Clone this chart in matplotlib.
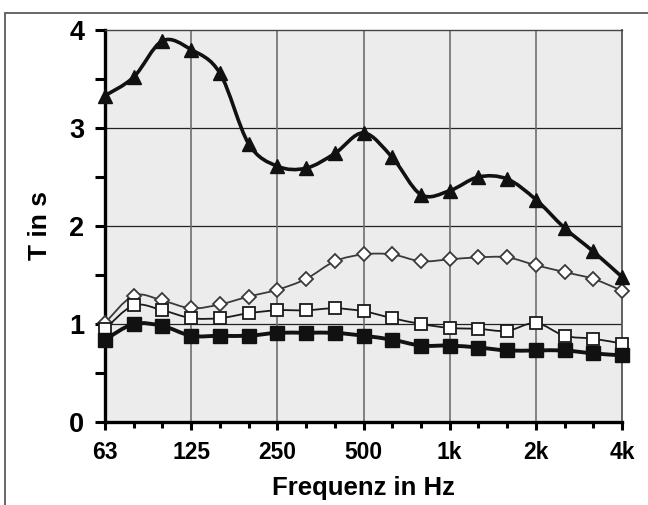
import numpy as np
import matplotlib.pyplot as plt
from matplotlib.path import Path
from matplotlib.patches import PathPatch, Rectangle
from matplotlib.ticker import MultipleLocator, FixedLocator, FuncFormatter

plt.rcParams['font.family'] = ['Liberation Sans', 'DejaVu Sans']
plt.rcParams['font.weight'] = 'bold'
plt.rcParams['axes.labelweight'] = 'bold'

# third-octave bands 63 Hz .. 4 kHz
bands = ['63', '80', '100', '125', '160', '200', '250', '315', '400', '500',
         '630', '800', '1k', '1.25k', '1.6k', '2k', '2.5k', '3.15k', '4k']
tick_labels = ['63', '125', '250', '500', '1k', '2k', '4k']

t_triangle = [3.33, 3.52, 3.89, 3.80, 3.56, 2.84, 2.61, 2.59, 2.74, 2.95,
              2.70, 2.32, 2.36, 2.50, 2.48, 2.27, 1.98, 1.74, 1.48]
t_diamond = [1.01, 1.29, 1.24, 1.16, 1.20, 1.28, 1.35, 1.46, 1.64, 1.71,
             1.71, 1.64, 1.66, 1.68, 1.68, 1.60, 1.53, 1.46, 1.34]
t_open_sq = [0.95, 1.19, 1.14, 1.06, 1.06, 1.11, 1.14, 1.14, 1.16, 1.13,
             1.06, 1.00, 0.96, 0.95, 0.93, 1.01, 0.88, 0.85, 0.80]
t_full_sq = [0.84, 1.00, 0.98, 0.88, 0.88, 0.88, 0.91, 0.91, 0.91, 0.88,
             0.84, 0.78, 0.78, 0.76, 0.73, 0.73, 0.73, 0.70, 0.68]

x = np.arange(len(bands))


def smooth_line(ax, xs, ys, **kw):
    # excel-like smoothed line, drawn as bezier path through the points
    p = np.column_stack([xs, ys]).astype(float)
    n = len(p)
    verts = [p[0]]
    codes = [Path.MOVETO]
    for i in range(n - 1):
        p0 = p[max(i - 1, 0)]
        p1 = p[i]
        p2 = p[i + 1]
        p3 = p[min(i + 2, n - 1)]
        verts += [p1 + (p2 - p0) / 6, p2 - (p3 - p1) / 6, p2]
        codes += [Path.CURVE4] * 3
    patch = PathPatch(Path(verts, codes), fill=False, clip_on=False, **kw)
    ax.add_patch(patch)


fig = plt.figure(figsize=(6.48, 5.05), dpi=100)
ax = fig.add_axes([105 / 648, 83 / 505, 517 / 648, 392 / 505])
ax.set_facecolor('#ebeceb')

# series
smooth_line(ax, x, t_diamond, edgecolor='#3a3a3a', lw=1.3, zorder=3)
ax.plot(x, t_diamond, ls='none', marker='D', ms=7.5, mfc='white', mec='#3a3a3a',
        mew=1.3, clip_on=False, zorder=3.1)
smooth_line(ax, x, t_open_sq, edgecolor='#1a1a1a', lw=1.3, zorder=4)
ax.plot(x, t_open_sq, ls='none', marker='s', ms=8, mfc='white', mec='#1a1a1a',
        mew=1.3, clip_on=False, zorder=4.1)
smooth_line(ax, x, t_full_sq, edgecolor='#111111', lw=2.8, zorder=5)
ax.plot(x, t_full_sq, ls='none', marker='s', ms=9.5, mfc='#111111', mec='#111111',
        clip_on=False, zorder=5.1)
smooth_line(ax, x, t_triangle, edgecolor='#111111', lw=2.6, zorder=6)
ax.plot(x, t_triangle, ls='none', marker='^', ms=10, mfc='#111111', mec='#111111',
        clip_on=False, zorder=6.1)

ax.set_xlim(0, len(bands) - 1)
ax.set_ylim(0, 4)

ax.xaxis.set_major_locator(FixedLocator(x[::3]))
ax.set_xticklabels(tick_labels)
ax.xaxis.set_minor_locator(FixedLocator(x))
ax.yaxis.set_major_locator(MultipleLocator(0.5))
ax.yaxis.set_major_formatter(FuncFormatter(lambda v, p: '%d' % v if v == int(v) else ''))

ax.tick_params(axis='x', which='major', direction='out', length=6, width=2.2,
               labelsize=16.5, pad=8)
ax.tick_params(axis='x', which='minor', direction='out', length=4, width=2.2)
ax.tick_params(axis='y', which='major', direction='out', length=7, width=2.2,
               labelsize=19.5, pad=8)

for v in [1, 2, 3]:
    ax.axhline(v, color='#222222', lw=0.9, zorder=1)
for v in x[3:-1:3]:
    ax.axvline(v, color='#6e6e6e', lw=1.2, zorder=1)

ax.spines['left'].set_linewidth(2.4)
ax.spines['bottom'].set_linewidth(2.4)
ax.spines['top'].set_color('#444444')
ax.spines['top'].set_linewidth(1.0)
ax.spines['right'].set_color('#555555')
ax.spines['right'].set_linewidth(1.3)

ax.set_xlabel('Frequenz in Hz', fontsize=18.5, fontweight='bold', labelpad=8)
ax.set_ylabel('T in s', fontsize=19, fontweight='bold', labelpad=12)

# outer frame
fig.add_artist(Rectangle((5 / 648, -0.1), 1.2, 1.1 - 13 / 505,
                         transform=fig.transFigure, fill=False,
                         edgecolor='#5a5a5a', lw=1.3))

fig.savefig('out.png', dpi=100)
